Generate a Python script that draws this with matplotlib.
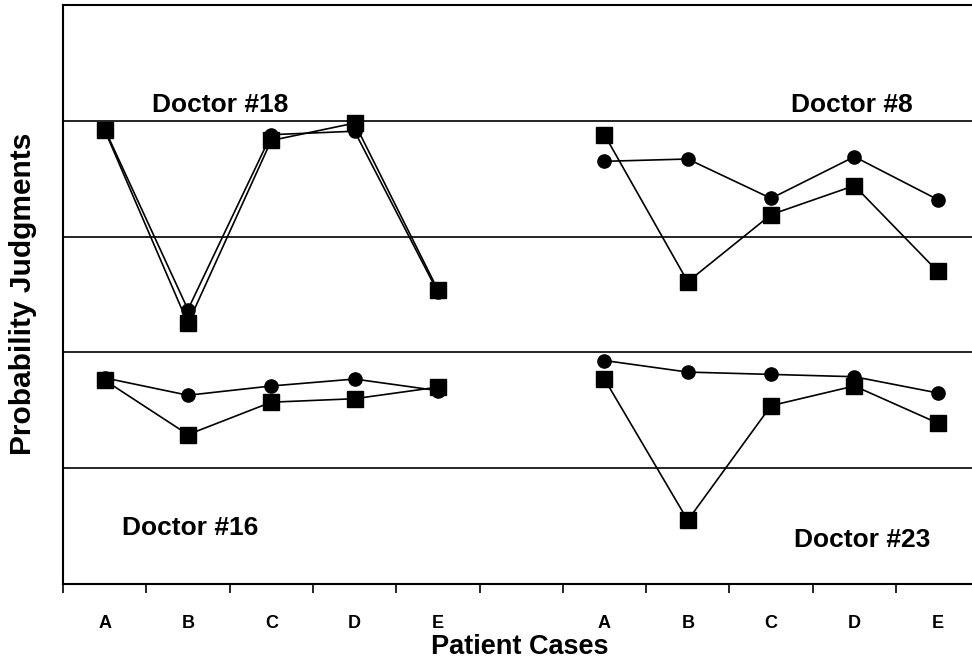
import numpy as np
import matplotlib
matplotlib.use("Agg")
import matplotlib.pyplot as plt

plt.rcParams["font.family"] = ["Liberation Sans", "DejaVu Sans"]

# ---- data (in axis units: each band = 1) ----
cases = ["A", "B", "C", "D", "E"]

doc18_circle = [3.93, 2.37, 3.88, 3.91, 2.52]
doc18_square = [3.92, 2.25, 3.83, 3.98, 2.54]

doc8_circle = [3.65, 3.67, 3.33, 3.69, 3.32]
doc8_square = [3.88, 2.61, 3.19, 3.44, 2.70]

doc16_circle = [1.78, 1.63, 1.71, 1.77, 1.67]
doc16_square = [1.76, 1.29, 1.57, 1.60, 1.70]

doc23_circle = [1.93, 1.83, 1.81, 1.79, 1.65]
doc23_square = [1.77, 0.55, 1.54, 1.71, 1.39]

left_x = np.arange(len(cases)) + 0.5
right_x = np.arange(len(cases)) + 6.5

fig = plt.figure(figsize=(9.72, 6.61), dpi=100)
ax = fig.add_axes([63 / 972, 77 / 661, 909 / 972, 579 / 661])

for ylev in [1, 2, 3, 4]:
    ax.axhline(ylev, color="black", lw=1.2, zorder=1)

def draw(x, circ, sq):
    ax.plot(x, circ, color="black", lw=1.2, marker="o", ms=9.5, zorder=3)
    ax.plot(x, sq, color="black", lw=1.2, marker="s", ms=11.5, zorder=4)

draw(left_x, doc18_circle, doc18_square)
draw(right_x, doc8_circle, doc8_square)
draw(left_x, doc16_circle, doc16_square)
draw(right_x, doc23_circle, doc23_square)

ax.set_xlim(0, 909 / 83.3)
ax.set_ylim(0, 5)

ax.spines["right"].set_visible(False)
for s in ["left", "top", "bottom"]:
    ax.spines[s].set_linewidth(1.5)

ax.set_yticks([])
ax.set_xticks(np.arange(0, 11))
ax.set_xticklabels([])
ax.tick_params(axis="x", which="major", direction="out", length=6.5, width=1.2)
ax.set_xticks(np.concatenate([left_x, right_x]), minor=True)
ax.set_xticklabels(cases + cases, minor=True, fontsize=13, fontweight="bold")
ax.tick_params(axis="x", which="minor", length=0, pad=22)

txt = dict(fontsize=19, fontweight="bold", ha="center", va="baseline")
ax.text((220 - 63) / 83.3, (584 - 112) / 115.8, "Doctor #18", **txt)
ax.text((852 - 63) / 83.3, (584 - 112) / 115.8, "Doctor #8", **txt)
ax.text((190 - 63) / 83.3, (584 - 535) / 115.8, "Doctor #16", **txt)
ax.text((862 - 63) / 83.3, (584 - 547) / 115.8, "Doctor #23", **txt)

fig.text(520 / 972, 1 - 654 / 661, "Patient Cases", fontsize=19.5,
         fontweight="bold", ha="center", va="baseline")
fig.text(23 / 972, 1 - 294 / 661, "Probability Judgments", fontsize=21.5,
         fontweight="bold", ha="center", va="center", rotation=90)

fig.savefig("out.png", dpi=100, facecolor="white")
